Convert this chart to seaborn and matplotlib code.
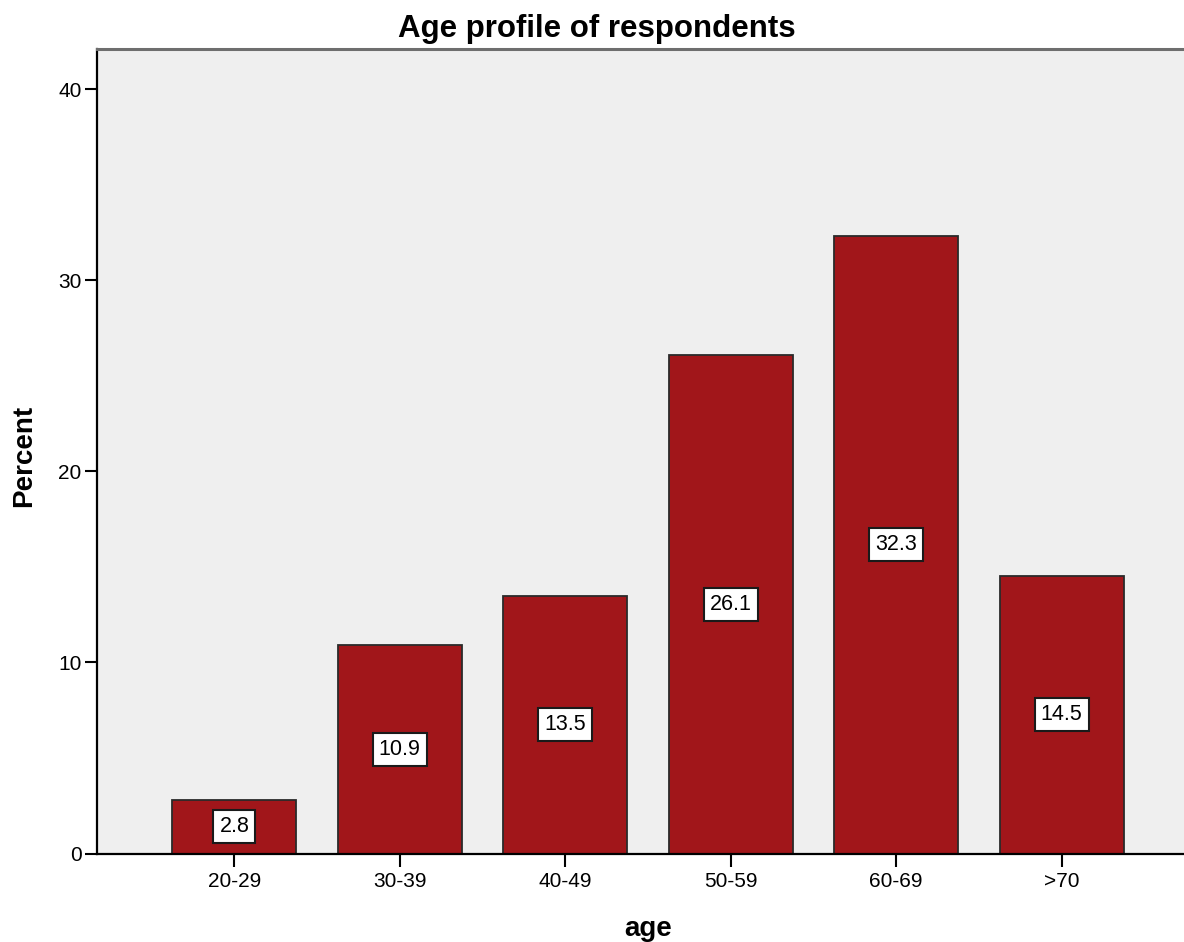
import matplotlib
matplotlib.use("Agg")
import matplotlib.pyplot as plt
import seaborn as sns

# --- data ---
age_groups = ["20-29", "30-39", "40-49", "50-59", "60-69", ">70"]
percent = [2.8, 10.9, 13.5, 26.1, 32.3, 14.5]
y_ticks = [0, 10, 20, 30, 40]

sns.set_style("white", {"axes.facecolor": "#EFEFEF"})
plt.rcParams["font.family"] = ["Liberation Sans", "DejaVu Sans"]
plt.rcParams["text.color"] = "black"
plt.rcParams["axes.labelcolor"] = "black"

fig = plt.figure(figsize=(11.84, 9.42), dpi=100)
# axes runs a little past the right edge of the canvas, like the original
ax = fig.add_axes([97 / 1184, 88.5 / 942, 1102 / 1184, 804.5 / 942])

sns.barplot(
    x=age_groups,
    y=percent,
    color="#A1161A",
    saturation=1,
    width=0.75,
    edgecolor="#2a2a2a",
    linewidth=1.3,
    ax=ax,
)

# value boxes in the middle of each bar
ax.bar_label(
    ax.containers[0],
    labels=[f"{v:.1f}" for v in percent],
    label_type="center",
    fontsize=15.5,
    color="black",
    bbox=dict(boxstyle="square,pad=0.28", facecolor="white",
              edgecolor="#1a1a1a", linewidth=1.5),
)

ax.set_xlim(-0.83, 5.83)
ax.set_ylim(0, 42.1)
ax.set_yticks(y_ticks)

for side in ["left", "bottom"]:
    ax.spines[side].set_color("black")
    ax.spines[side].set_linewidth(1.6)
ax.spines["top"].set_color("#6e6e6e")
ax.spines["top"].set_linewidth(2.2)
ax.spines["right"].set_visible(False)

ax.tick_params(axis="both", bottom=True, left=True, direction="out",
               length=9, width=1.5, color="black", labelcolor="black",
               labelsize=15, pad=2)
ax.tick_params(axis="x", pad=4)

ax.set_xlabel("age", fontsize=20, fontweight="bold")
ax.xaxis.set_label_coords(551 / 1102, -(936 - 853.5) / 804.5)
ax.xaxis.label.set_va("baseline")

ax.set_ylabel("Percent", fontsize=20, fontweight="bold")
ax.yaxis.set_label_coords(-(97 - 24) / 1102, 0.494)
ax.yaxis.label.set_va("center")

fig.text(596.5 / 1184, 1 - 37 / 942, "Age profile of respondents",
         ha="center", va="baseline", fontsize=22.5, fontweight="bold")

fig.savefig("out.png", dpi=100)
